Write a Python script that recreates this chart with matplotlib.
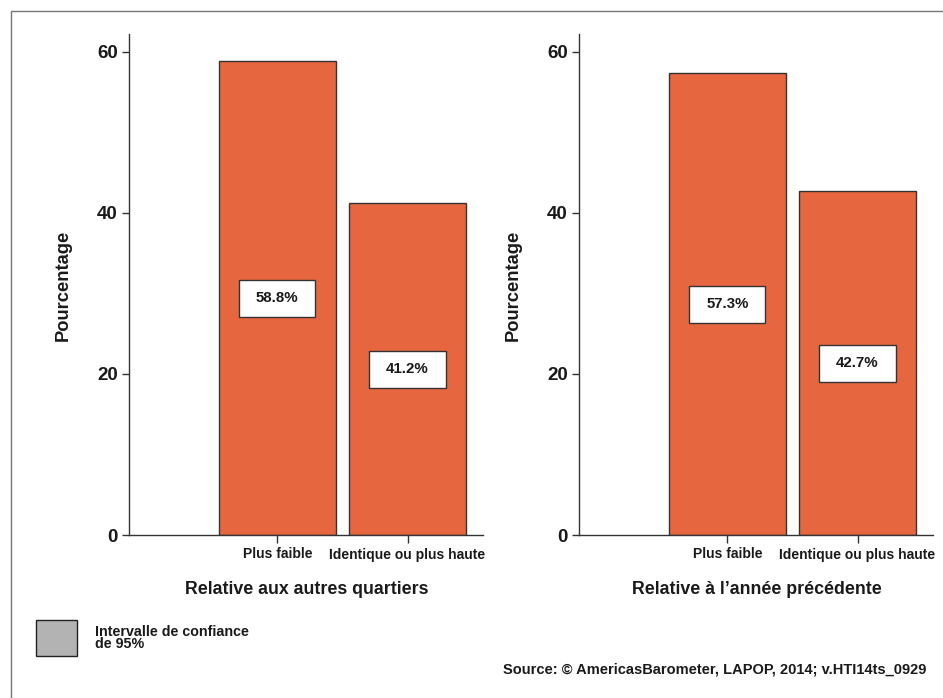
import matplotlib
matplotlib.use("Agg")
import matplotlib.pyplot as plt
from matplotlib.patches import Rectangle

plt.rcParams["font.family"] = ["Liberation Sans", "DejaVu Sans"]
plt.rcParams["font.weight"] = "bold"

# data
categories = ["Plus faible", "Identique ou plus haute"]
vals_quartiers = [58.8, 41.2]
vals_annee = [57.3, 42.7]
panel_titles = ["Relative aux autres quartiers", "Relative à l\u2019année précédente"]
y_ticks = [0, 20, 40, 60]

BAR_COLOR = "#e5663f"
EDGE = "#333333"
TXT = "#1a1a1a"

W, H = 943, 698
fig = plt.figure(figsize=(W / 100, H / 100), dpi=100)


def px_x(x):
    return x / W


def px_y(y):
    return 1 - y / H


def draw_panel(ax, values, xlabel_x, ylabel_x, title):
    pos = [1, 2]
    ax.bar(pos, values, width=0.9, color=BAR_COLOR, edgecolor=EDGE, linewidth=1.0, zorder=2)
    # value boxes at mid-height
    bw, bh = 0.585, 4.6
    for p, v in zip(pos, values):
        ax.add_patch(Rectangle((p - bw / 2, v / 2 - bh / 2), bw, bh,
                               facecolor="white", edgecolor=EDGE, linewidth=1.0, zorder=3))
        ax.text(p, v / 2, f"{v:.1f}%", ha="center", va="center", fontsize=10.8,
                fontweight="bold", color=TXT, zorder=4)
    ax.set_xlim(-0.14, 2.58)
    ax.set_ylim(0, 62.2)
    ax.set_yticks(y_ticks)
    ax.set_xticks(pos)
    ax.set_xticklabels(categories, fontsize=10, fontweight="bold", color=TXT)
    ax.tick_params(axis="y", labelsize=13.5, colors=TXT, length=5, width=1.0, pad=3,
                   color=EDGE)
    ax.tick_params(axis="x", length=6, width=1.0, pad=3, color=EDGE)
    for lab in ax.get_yticklabels():
        lab.set_fontweight("bold")
    for s in ["top", "right"]:
        ax.spines[s].set_visible(False)
    for s in ["left", "bottom"]:
        ax.spines[s].set_color(EDGE)
        ax.spines[s].set_linewidth(1.0)
    fig.text(px_x(ylabel_x), px_y(285), "Pourcentage", rotation=90, ha="center",
             va="center", fontsize=13.2, fontweight="bold", color=TXT)
    fig.text(px_x(xlabel_x), px_y(589), title, ha="center", va="center",
             fontsize=12.8, fontweight="bold", color=TXT)


ax1 = fig.add_axes([px_x(129), px_y(535), (483 - 129) / W, (535 - 34) / H])
ax2 = fig.add_axes([px_x(579), px_y(535), (933 - 579) / W, (535 - 34) / H])
draw_panel(ax1, vals_quartiers, 307, 63, panel_titles[0])
draw_panel(ax2, vals_annee, 757, 513, panel_titles[1])

# frame
fig.add_artist(Rectangle((px_x(11), -0.1), 1.2, px_y(11) + 0.1, transform=fig.transFigure,
                         fill=False, edgecolor="#777777", linewidth=1.0))

# legend
fig.add_artist(Rectangle((px_x(36), px_y(656)), (77 - 36) / W, (656 - 620) / H,
                         transform=fig.transFigure, facecolor="#b3b3b3",
                         edgecolor="#222222", linewidth=1.0))
fig.text(px_x(95), px_y(638), "Intervalle de confiance\nde 95%", ha="left", va="center",
         fontsize=10.3, fontweight="bold", color=TXT, linespacing=0.9)

fig.text(px_x(926), px_y(669), "Source: \u00a9 AmericasBarometer, LAPOP, 2014; v.HTI14ts_0929",
         ha="right", va="center", fontsize=10.5, fontweight="bold", color=TXT)

fig.savefig("out.png", dpi=100)
